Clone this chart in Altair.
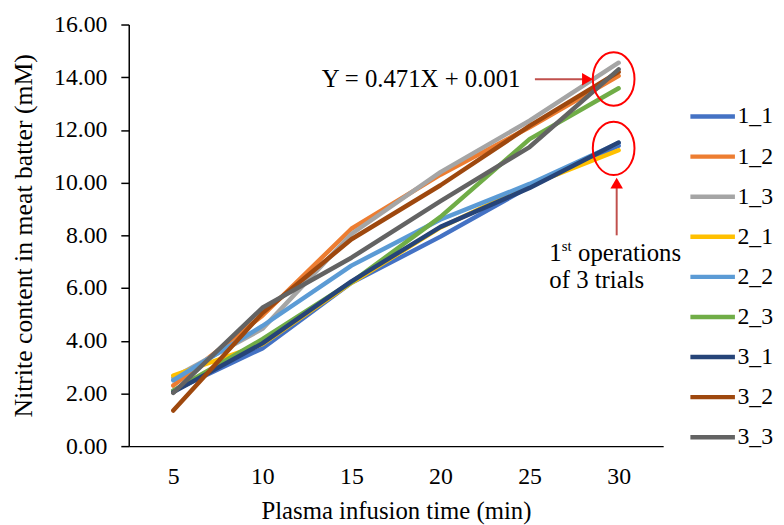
import altair as alt
import pandas as pd

times = [5, 10, 15, 20, 25, 30]
series = ["1_1", "1_2", "1_3", "2_1", "2_2", "2_3", "3_1", "3_2", "3_3"]
v_1_1 = [2.10, 3.71, 6.20, 7.95, 9.85, 11.40]
v_1_2 = [2.30, 4.95, 8.25, 10.30, 12.10, 14.05]
v_1_3 = [2.60, 4.45, 8.05, 10.40, 12.35, 14.55]
v_2_1 = [2.68, 3.87, 6.20, 8.30, 9.90, 11.23]
v_2_2 = [2.50, 4.56, 6.85, 8.60, 9.95, 11.50]
v_2_3 = [2.10, 4.06, 6.22, 8.70, 11.65, 13.58]
v_3_1 = [2.05, 3.90, 6.25, 8.32, 9.80, 11.52]
v_3_2 = [1.35, 5.05, 7.85, 9.90, 12.15, 14.20]
v_3_3 = [2.02, 5.25, 7.15, 9.30, 11.35, 14.30]
values = [v_1_1, v_1_2, v_1_3, v_2_1, v_2_2, v_2_3, v_3_1, v_3_2, v_3_3]
colors = ["#4472C4", "#ED7D31", "#A5A5A5", "#FFC000", "#5B9BD5",
          "#70AD47", "#264478", "#9E480E", "#636363"]
y_ticks = [0, 2, 4, 6, 8, 10, 12, 14, 16]

rows = []
for s, vals in zip(series, values):
    for t, v in zip(times, vals):
        rows.append({"series": s, "time": t, "value": v})
df = pd.DataFrame(rows)

FONT = "Liberation Serif"

xscale = alt.Scale(domain=[2.5, 32.5], nice=False, zero=False)
yscale = alt.Scale(domain=[0, 16], nice=False)

lines = alt.Chart(df).mark_line(strokeWidth=4.5, strokeCap="round", strokeJoin="round").encode(
    x=alt.X("time:Q", scale=xscale,
            axis=alt.Axis(values=times, ticks=False, tickSize=0, grid=False,
                          title="Plasma infusion time (min)", labelPadding=19,
                          titlePadding=10, titleFontSize=25)),
    y=alt.Y("value:Q", scale=yscale,
            axis=alt.Axis(values=y_ticks, format=".2f", tickSize=8, grid=False,
                          title="Nitrite content in meat batter (mM)",
                          labelPadding=14, titlePadding=17, titleFontSize=26)),
    color=alt.Color("series:N", scale=alt.Scale(domain=series, range=colors),
                    sort=series,
                    legend=alt.Legend(title=None, orient="none", legendX=565, legendY=68,
                                      symbolType="stroke", symbolSize=2025,
                                      symbolStrokeWidth=4.5, labelOffset=0,
                                      rowPadding=3.5, padding=0,
                                      labelFont=FONT, labelFontSize=24,
                                      labelColor="black")),
    order=alt.Order("series:N"),
)

one = pd.DataFrame({"a": [0]})

ellipse_shape = "M -0.78 0 A 0.78 1 0 1 0 0.78 0 A 0.78 1 0 1 0 -0.78 0 Z"
ell1 = alt.Chart(one).mark_point(shape=ellipse_shape, size=2916, filled=False,
                                  stroke="#FF0000", strokeWidth=2, opacity=1).encode(
    x=alt.datum(29.72), y=alt.datum(13.93))
ell2 = alt.Chart(one).mark_point(shape=ellipse_shape, size=2916, filled=False,
                                  stroke="#FF0000", strokeWidth=2, opacity=1).encode(
    x=alt.datum(29.72), y=alt.datum(11.30))

hline = alt.Chart(one).mark_rule(color="#C0504D", strokeWidth=2).encode(
    x=alt.datum(25.3), x2=alt.datum(28.0), y=alt.datum(13.92))
hhead = alt.Chart(one).mark_point(shape="triangle-right", filled=True, color="#FF0000",
                                   size=160, opacity=1).encode(
    x=alt.datum(28.25), y=alt.datum(13.92))
vline = alt.Chart(one).mark_rule(color="#C0504D", strokeWidth=2).encode(
    x=alt.datum(29.89), y=alt.datum(8.0), y2=alt.datum(9.8))
vhead = alt.Chart(one).mark_point(shape="triangle-up", filled=True, color="#FF0000",
                                   size=160, opacity=1).encode(
    x=alt.datum(29.89), y=alt.datum(9.98))

def txt(x, y, s, size=25):
    return alt.Chart(one).mark_text(align="left", baseline="alphabetic", font=FONT,
                                    fontSize=size, color="black", text=s).encode(
        x=alt.datum(x), y=alt.datum(y))

eq = txt(13.33, 13.63, "Y = 0.471X + 0.001")
t1 = txt(26.11, 7.03, "1")
t1s = txt(26.80, 7.42, "st", 15)
t1b = txt(27.72, 7.03, "operations")
t2 = txt(26.11, 6.01, "of 3 trials")

chart = alt.layer(lines, ell1, ell2, hline, hhead, vline, vhead, eq, t1, t1s, t1b, t2).properties(
    width=540, height=426,
    padding={"left": 122, "top": 14, "right": 114, "bottom": 77},
    autosize=alt.AutoSizeParams(type="none"),
    background="white",
).configure_view(stroke=None).configure_axis(
    labelFont=FONT, labelFontSize=24, labelColor="black",
    titleFont=FONT, titleColor="black", titleFontWeight="normal",
    domainColor="black", tickColor="black", domainWidth=1.5, tickWidth=1.5,
)

chart.save("out.html", embed_options={"renderer": "svg", "actions": False})
